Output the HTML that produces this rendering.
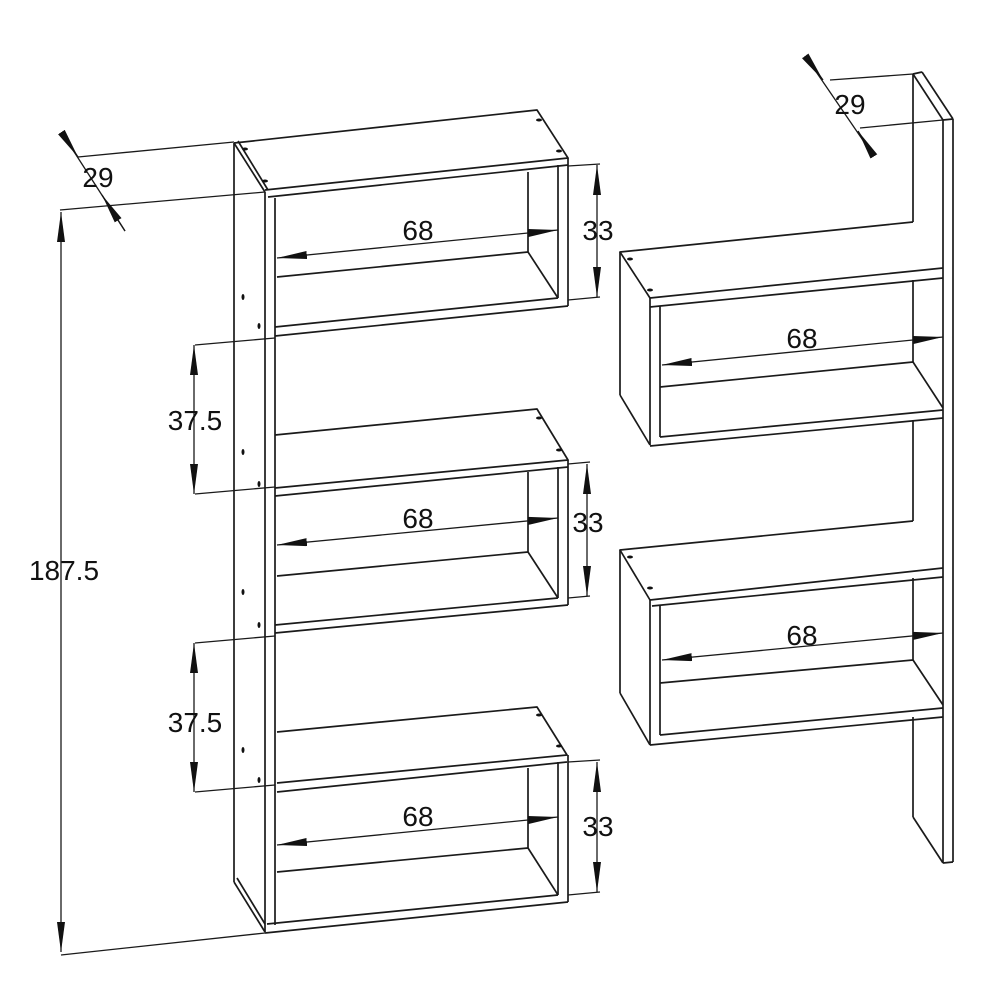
<!DOCTYPE html>
<html><head><meta charset="utf-8"><style>
html,body{margin:0;padding:0;background:#fff;width:1000px;height:1000px;overflow:hidden}
svg{display:block}
text{font-family:"Liberation Sans",sans-serif;font-size:28px;fill:#111;text-anchor:middle}
</style></head><body>
<svg width="1000" height="1000" viewBox="0 0 1000 1000" xmlns="http://www.w3.org/2000/svg">
<defs>
<marker id="a" viewBox="0 0 30 8" refX="30" refY="4" markerWidth="30" markerHeight="8" markerUnits="userSpaceOnUse" orient="auto-start-reverse">
<path d="M0,0 L30,4 L0,8 Z" fill="#111"/></marker>
</defs>
<g stroke="#1a1a1a" stroke-width="1.7" fill="none" stroke-linejoin="round">
<line x1="234" y1="143" x2="234" y2="882"/>
<line x1="265" y1="192" x2="265" y2="932"/>
<line x1="275" y1="198" x2="275" y2="925"/>
<line x1="234" y1="143" x2="265" y2="192"/>
<line x1="238" y1="141" x2="268" y2="190"/>
<line x1="234" y1="882" x2="265" y2="932"/>
<line x1="237" y1="878" x2="265" y2="924"/>
<polyline points="234,143 537,110 568,158 265,190"/>
<line x1="268" y1="197" x2="568" y2="165"/>
<line x1="568" y1="158" x2="568" y2="306"/>
<line x1="558" y1="165" x2="558" y2="298"/>
<line x1="528" y1="172" x2="528" y2="252"/>
<line x1="277" y1="277" x2="528" y2="252"/>
<line x1="528" y1="252" x2="558" y2="298"/>
<line x1="275" y1="327" x2="558" y2="298"/>
<line x1="275" y1="336" x2="568" y2="306"/>
<polyline points="275,435 537,409 568,460 275,488"/>
<line x1="275" y1="496" x2="568" y2="467"/>
<line x1="568" y1="460" x2="568" y2="605"/>
<line x1="558" y1="467" x2="558" y2="598"/>
<line x1="528" y1="472" x2="528" y2="552"/>
<line x1="277" y1="576" x2="528" y2="552"/>
<line x1="528" y1="552" x2="558" y2="598"/>
<line x1="275" y1="625" x2="558" y2="598"/>
<line x1="275" y1="633" x2="568" y2="605"/>
<polyline points="277,732 537,707 567,755 277,783"/>
<line x1="277" y1="792" x2="567" y2="762"/>
<line x1="568" y1="755" x2="568" y2="902"/>
<line x1="558" y1="762" x2="558" y2="895"/>
<line x1="528" y1="768" x2="528" y2="848"/>
<line x1="277" y1="872" x2="528" y2="848"/>
<line x1="528" y1="848" x2="558" y2="895"/>
<line x1="267" y1="924" x2="558" y2="895"/>
<line x1="265" y1="933" x2="568" y2="902"/>

<line x1="913" y1="74" x2="922" y2="72"/>
<line x1="922" y1="72" x2="953" y2="119"/>
<line x1="913" y1="74" x2="943" y2="120"/>
<line x1="943" y1="120" x2="953" y2="119"/>
<line x1="943" y1="120" x2="943" y2="863"/>
<line x1="953" y1="119" x2="953" y2="862"/>
<line x1="913" y1="74" x2="913" y2="222"/>
<line x1="913" y1="280" x2="913" y2="362"/>
<line x1="913" y1="420" x2="913" y2="521"/>
<line x1="913" y1="578" x2="913" y2="660"/>
<line x1="913" y1="717" x2="913" y2="817"/>
<line x1="913" y1="817" x2="943" y2="863"/>
<line x1="943" y1="863" x2="953" y2="862"/>
<polyline points="913,222 620,252 650,298 943,268"/>
<line x1="650" y1="307" x2="943" y2="278"/>
<line x1="620" y1="252" x2="620" y2="395"/>
<line x1="650" y1="298" x2="650" y2="445"/>
<line x1="660" y1="306" x2="660" y2="437"/>
<line x1="620" y1="395" x2="650" y2="445"/>
<line x1="660" y1="387" x2="913" y2="362"/>
<line x1="913" y1="362" x2="943" y2="408"/>
<line x1="660" y1="437" x2="943" y2="410"/>
<line x1="650" y1="446" x2="943" y2="418"/>
<polyline points="913,521 620,550 650,600 943,568"/>
<line x1="652" y1="606" x2="943" y2="577"/>
<line x1="620" y1="550" x2="620" y2="693"/>
<line x1="650" y1="600" x2="650" y2="745"/>
<line x1="660" y1="606" x2="660" y2="735"/>
<line x1="620" y1="693" x2="650" y2="745"/>
<line x1="660" y1="683" x2="913" y2="660"/>
<line x1="913" y1="660" x2="943" y2="705"/>
<line x1="660" y1="735" x2="943" y2="708"/>
<line x1="650" y1="745" x2="943" y2="717"/>
</g>
<g stroke="#1a1a1a" stroke-width="1.3" fill="none">
<line x1="78" y1="157" x2="234" y2="142"/>
<line x1="60" y1="210" x2="265" y2="192"/>
<line x1="61" y1="212" x2="61" y2="952" marker-start="url(#a)" marker-end="url(#a)"/>
<line x1="61" y1="955" x2="265" y2="933"/>
<line x1="62" y1="133" x2="125" y2="231"/>
<line x1="62" y1="133" x2="78" y2="157" marker-end="url(#a)" />
<line x1="125" y1="231" x2="102" y2="195" marker-end="url(#a)"/>
<line x1="195" y1="345" x2="275" y2="338"/>
<line x1="195" y1="494" x2="275" y2="487"/>
<line x1="194" y1="345" x2="194" y2="494" marker-start="url(#a)" marker-end="url(#a)"/>
<line x1="195" y1="643" x2="275" y2="636"/>
<line x1="195" y1="792" x2="275" y2="785"/>
<line x1="194" y1="643" x2="194" y2="792" marker-start="url(#a)" marker-end="url(#a)"/>
<line x1="568" y1="166" x2="600" y2="164"/>
<line x1="568" y1="300" x2="600" y2="297"/>
<line x1="597" y1="165" x2="597" y2="297" marker-start="url(#a)" marker-end="url(#a)"/>
<line x1="568" y1="464" x2="590" y2="462"/>
<line x1="568" y1="598" x2="590" y2="596"/>
<line x1="587" y1="464" x2="587" y2="596" marker-start="url(#a)" marker-end="url(#a)"/>
<line x1="568" y1="762" x2="600" y2="760"/>
<line x1="568" y1="895" x2="600" y2="892"/>
<line x1="597" y1="762" x2="597" y2="892" marker-start="url(#a)" marker-end="url(#a)"/>
<line x1="277" y1="258" x2="558" y2="230" marker-start="url(#a)" marker-end="url(#a)"/>
<line x1="277" y1="545" x2="558" y2="518" marker-start="url(#a)" marker-end="url(#a)"/>
<line x1="277" y1="845" x2="558" y2="817" marker-start="url(#a)" marker-end="url(#a)"/>
<line x1="662" y1="365" x2="943" y2="337" marker-start="url(#a)" marker-end="url(#a)"/>
<line x1="662" y1="660" x2="943" y2="633" marker-start="url(#a)" marker-end="url(#a)"/>
<line x1="830" y1="80" x2="913" y2="74"/>
<line x1="860" y1="128" x2="943" y2="120"/>
<line x1="806" y1="57" x2="873" y2="155"/>
<line x1="806" y1="57" x2="823" y2="80" marker-end="url(#a)"/>
<line x1="873" y1="155" x2="858" y2="131" marker-end="url(#a)"/>
</g>
<g fill="#111">
<ellipse cx="243" cy="297" rx="1.5" ry="3"/><ellipse cx="259" cy="326" rx="1.5" ry="3"/>
<ellipse cx="243" cy="452" rx="1.5" ry="3"/><ellipse cx="259" cy="484" rx="1.5" ry="3"/>
<ellipse cx="243" cy="592" rx="1.5" ry="3"/><ellipse cx="259" cy="625" rx="1.5" ry="3"/>
<ellipse cx="243" cy="750" rx="1.5" ry="3"/><ellipse cx="259" cy="780" rx="1.5" ry="3"/>
<ellipse cx="245" cy="149" rx="3" ry="1.5"/><ellipse cx="265" cy="181" rx="3" ry="1.5"/>
<ellipse cx="539" cy="120" rx="3" ry="1.5"/><ellipse cx="559" cy="151" rx="3" ry="1.5"/>
<ellipse cx="539" cy="418" rx="3" ry="1.5"/><ellipse cx="559" cy="450" rx="3" ry="1.5"/>
<ellipse cx="539" cy="715" rx="3" ry="1.5"/><ellipse cx="559" cy="746" rx="3" ry="1.5"/>
<ellipse cx="630" cy="259" rx="3" ry="1.5"/><ellipse cx="650" cy="290" rx="3" ry="1.5"/>
<ellipse cx="630" cy="557" rx="3" ry="1.5"/><ellipse cx="650" cy="588" rx="3" ry="1.5"/>
</g>
<text x="98" y="187">29</text>
<text x="850" y="114">29</text>
<text x="64" y="580">187.5</text>
<text x="195" y="430">37.5</text>
<text x="195" y="732">37.5</text>
<text x="418" y="240">68</text>
<text x="418" y="528">68</text>
<text x="418" y="826">68</text>
<text x="802" y="348">68</text>
<text x="802" y="645">68</text>
<text x="598" y="240">33</text>
<text x="588" y="532">33</text>
<text x="598" y="836">33</text>
</svg>
</body></html>
